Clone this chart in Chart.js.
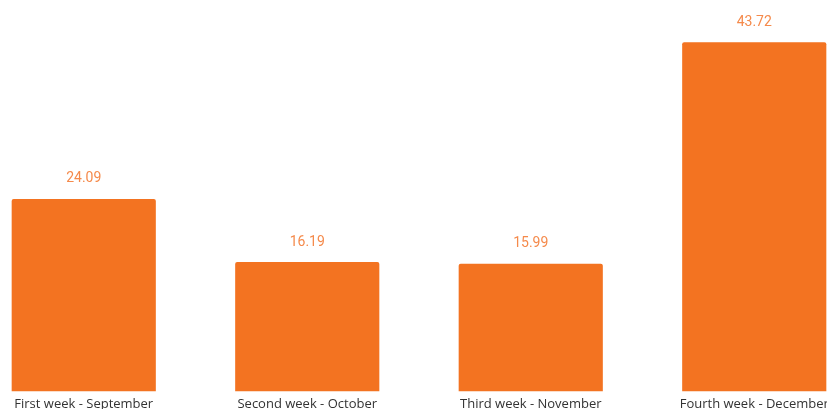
<!DOCTYPE html>
<html>
<head>
<meta charset="utf-8">
<script src="https://cdn.jsdelivr.net/npm/chart.js@4/dist/chart.umd.min.js"></script>
<style>
  html, body { margin: 0; padding: 0; background: #fff; overflow: hidden; width: 827px; height: 409px; }
  #wrap { position: absolute; left: -28px; top: 0; }
</style>
</head>
<body>
<div id="wrap"><canvas id="c" width="894" height="417"></canvas></div>
<script>
const categories = ['First week - September', 'Second week - October', 'Third week - November', 'Fourth week - December'];
const values = [24.09, 16.19, 15.99, 43.72];

const BAR = '#F37321';
const LABEL = '#F58A4B';

// writes each bar's value above it
const valueLabels = {
  id: 'valueLabels',
  afterDatasetsDraw(chart) {
    const ctx = chart.ctx;
    const meta = chart.getDatasetMeta(0);
    ctx.save();
    ctx.font = '14px Roboto';
    ctx.fillStyle = LABEL;
    ctx.textAlign = 'center';
    ctx.textBaseline = 'middle';
    meta.data.forEach((bar, i) => {
      ctx.fillText(values[i].toFixed(2), bar.x, bar.y - 20);
    });
    ctx.restore();
  }
};

new Chart(document.getElementById('c'), {
  type: 'bar',
  data: {
    labels: categories,
    datasets: [{
      data: values,
      backgroundColor: BAR,
      borderRadius: 2,
      borderSkipped: 'bottom',
      categoryPercentage: 1,
      barPercentage: 0.645
    }]
  },
  options: {
    responsive: false,
    animation: false,
    layout: { padding: 0 },
    plugins: { legend: { display: false }, tooltip: { enabled: false } },
    scales: {
      x: {
        grid: { display: false, drawTicks: false },
        border: { display: false },
        ticks: { color: '#333', font: { family: 'Open Sans', size: 13 }, padding: 5, maxRotation: 0 }
      },
      y: {
        display: false,
        min: 0,
        max: 49
      }
    }
  },
  plugins: [valueLabels]
});
</script>
</body>
</html>
